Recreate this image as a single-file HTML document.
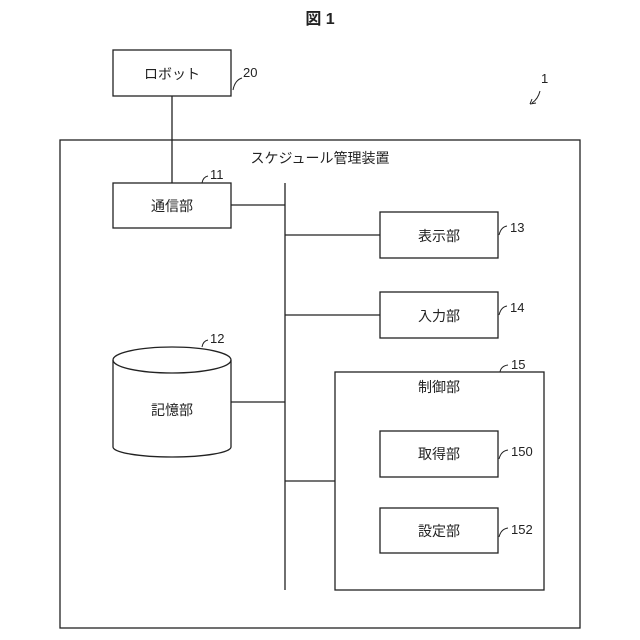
<!DOCTYPE html>
<html><head><meta charset="utf-8"><style>html,body{margin:0;padding:0;background:#fff;width:640px;height:640px;overflow:hidden}svg{display:block}</style></head><body>
<svg width="640" height="640" xmlns="http://www.w3.org/2000/svg" font-family="'Liberation Sans','Noto Sans CJK JP',sans-serif" fill="none" stroke="#222" stroke-width="1.3">
<g fill="#222" stroke="none" text-anchor="middle" font-size="14">
<text x="320" y="24" font-size="16" font-weight="bold">図 1</text>
<text x="172" y="79">ロボット</text>
<text x="172" y="211">通信部</text>
<text x="439" y="241">表示部</text>
<text x="439" y="321">入力部</text>
<text x="172" y="415">記憶部</text>
<text x="439" y="392">制御部</text>
<text x="439" y="459">取得部</text>
<text x="439" y="536">設定部</text>
<text x="320" y="163">スケジュール管理装置</text>
<g text-anchor="start" font-size="13">
<text x="243" y="77">20</text>
<text x="210" y="179">11</text>
<text x="210" y="343">12</text>
<text x="510" y="232">13</text>
<text x="510" y="312">14</text>
<text x="511" y="369">15</text>
<text x="511" y="456">150</text>
<text x="511" y="534">152</text>
<text x="541" y="83">1</text>
</g>
</g>
<rect x="113" y="50" width="118" height="46"/>
<rect x="60" y="140" width="520" height="488"/>
<rect x="113" y="183" width="118" height="45"/>
<rect x="380" y="212" width="118" height="46"/>
<rect x="380" y="292" width="118" height="46"/>
<rect x="335" y="372" width="209" height="218"/>
<rect x="380" y="431" width="118" height="46"/>
<rect x="380" y="508" width="118" height="45"/>
<path d="M113 360 V447 A59 10 0 0 0 231 447 V360"/>
<ellipse cx="172" cy="360" rx="59" ry="13"/>
<path d="M172 96V183 M285 183V590 M231 205H285 M285 235H380 M285 315H380 M231 402H285 M285 481H335"/>
<g stroke-width="1">
<path d="M233 90 q2-10 9-12"/>
<path d="M202 183 q1-6 6-7"/>
<path d="M202 347 q1-6 6-7"/>
<path d="M499 235 q2-8 8-9"/>
<path d="M499 315 q2-8 8-9"/>
<path d="M500 372 q1-6 8-7"/>
<path d="M499 459 q2-8 9-9"/>
<path d="M499 537 q2-8 9-9"/>
<path d="M532 103 q6-4 8-12"/>
<path d="M530 104 l6-1 M530 104 l2-5"/>
</g>
</svg>
</body></html>
